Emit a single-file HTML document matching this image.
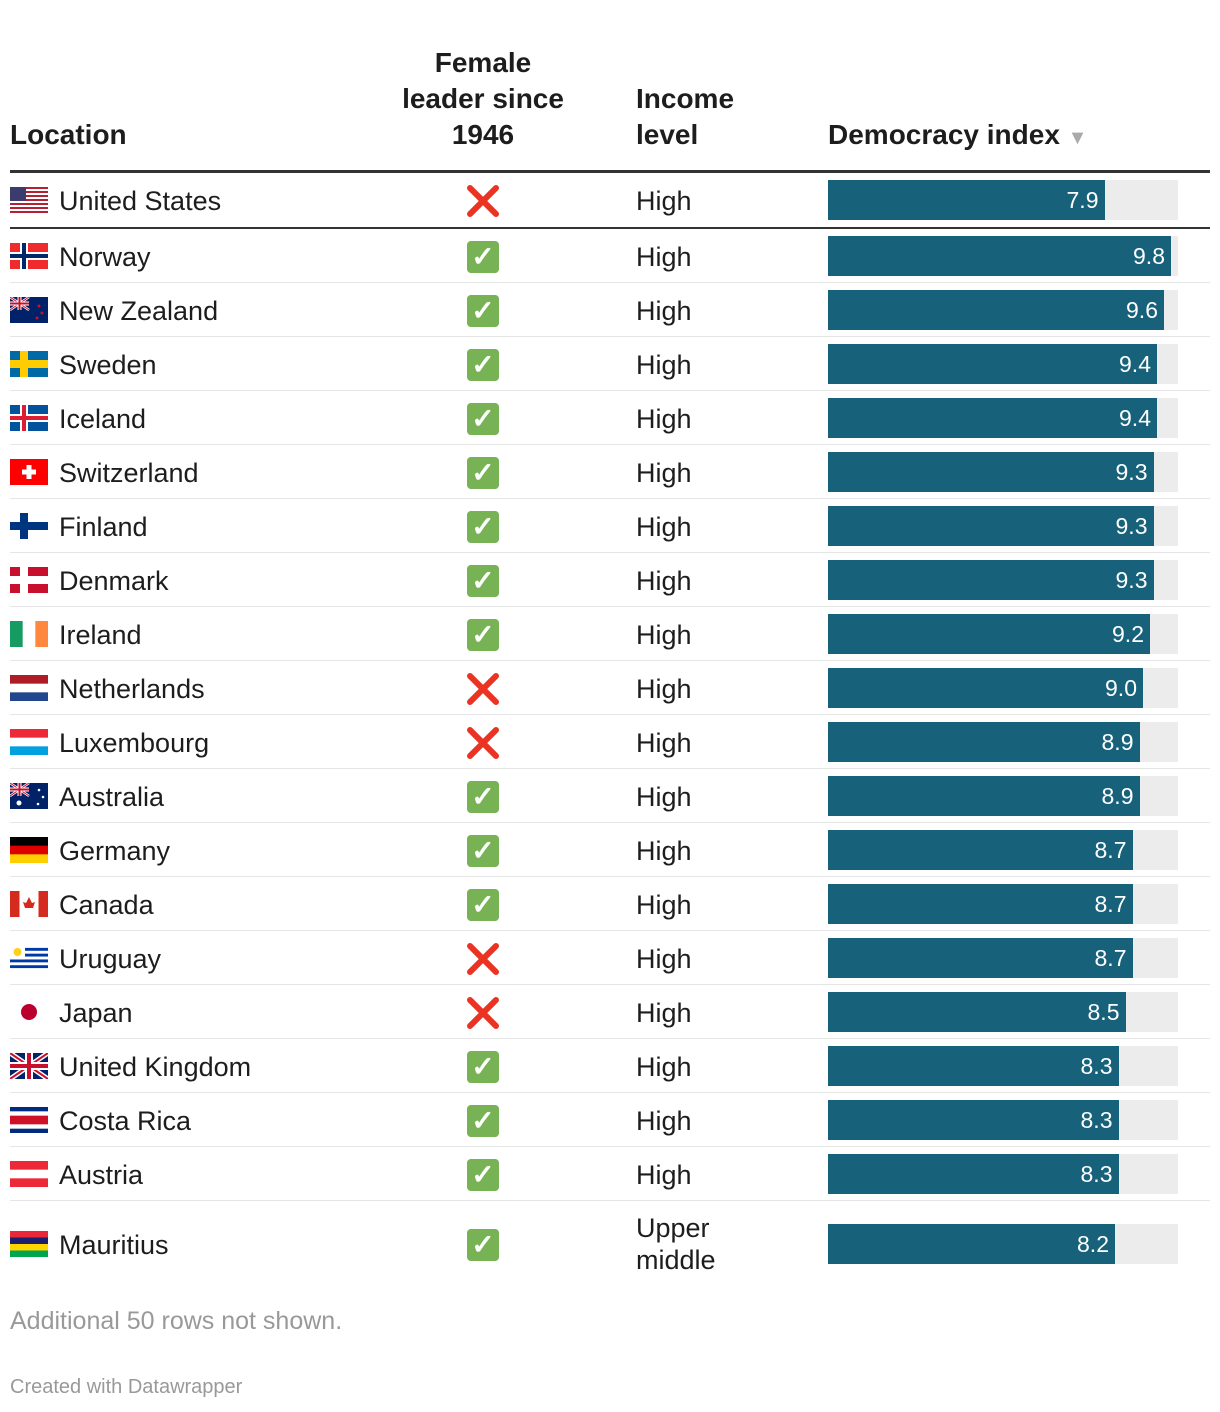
<!DOCTYPE html>
<html><head><meta charset="utf-8"><style>
body{margin:0;width:1220px;height:1412px;background:#fff;font-family:"Liberation Sans",Arial,sans-serif;color:#1d1d1d;position:relative;overflow:hidden}
.a{position:absolute}
.h{font-weight:bold;font-size:28px;line-height:36px;color:#1d1d1d}
.t{font-size:27px;line-height:32px}
.bg{background:#ececec;height:40px}
.bar{background:#17627a;height:40px;color:#fff;font-size:23px;line-height:40px;text-align:right;box-sizing:border-box;padding-right:6px}
</style></head><body>
<div class="a h" style="left:10px;top:117px">Location</div>
<div class="a h" style="left:383px;width:200px;top:45px;text-align:center">Female<br>leader since<br>1946</div>
<div class="a h" style="left:636px;top:81px">Income<br>level</div>
<div class="a h" style="left:828px;top:117px">Democracy index <span style="color:#aaa;font-size:20px">▼</span></div>
<div class="a" style="left:10px;top:170px;width:1200px;height:3px;background:#333"></div>
<div id="rows"></div>
<div class="a t" style="left:10px;top:1305px;color:#999;font-size:25px">Additional 50 rows not shown.</div>
<div class="a" style="left:10px;top:1376px;color:#999;font-size:20px">Created with Datawrapper</div>
<script>
const countries=["United States","Norway","New Zealand","Sweden","Iceland","Switzerland","Finland","Denmark","Ireland","Netherlands","Luxembourg","Australia","Germany","Canada","Uruguay","Japan","United Kingdom","Costa Rica","Austria","Mauritius"];
const femaleLeader=[0,1,1,1,1,1,1,1,1,0,0,1,1,1,0,0,1,1,1,1];
const income=["High","High","High","High","High","High","High","High","High","High","High","High","High","High","High","High","High","High","High","Upper<br>middle"];
const democracy=[7.9,9.8,9.6,9.4,9.4,9.3,9.3,9.3,9.2,9.0,8.9,8.9,8.7,8.7,8.7,8.5,8.3,8.3,8.3,8.2];
function flag(c){
 const W=38,H=26;let s='';
 const st=(cols)=>cols.map((col,i)=>`<rect x="0" y="${i*H/cols.length}" width="${W}" height="${H/cols.length+0.5}" fill="${col}"/>`).join('');
 const vt=(cols)=>cols.map((col,i)=>`<rect y="0" x="${i*W/cols.length}" height="${H}" width="${W/cols.length+0.5}" fill="${col}"/>`).join('');
 const nord=(bg,o,i)=>`<rect width="${W}" height="${H}" fill="${bg}"/><rect x="10" width="8" height="${H}" fill="${o}"/><rect y="9" width="${W}" height="8" fill="${o}"/>`+(i?`<rect x="12" width="4" height="${H}" fill="${i}"/><rect y="11" width="${W}" height="4" fill="${i}"/>`:'');
 const ujInner=`<path d="M0 0L38 26M38 0L0 26" stroke="#fff" stroke-width="5"/><path d="M0 0L38 26M38 0L0 26" stroke="#c8102e" stroke-width="2"/><rect x="15" width="8" height="26" fill="#fff"/><rect y="9" width="38" height="8" fill="#fff"/><rect x="17" width="4" height="26" fill="#c8102e"/><rect y="11" width="38" height="4" fill="#c8102e"/>`;
 const uj=`<rect width="38" height="26" fill="#012169"/>`+ujInner;
 const ujs=`<rect width="38" height="26" fill="#012169"/><g transform="scale(.5)">${ujInner}</g>`;
 switch(c){
 case "United States":{for(let i=0;i<13;i++)s+=`<rect y="${i*2}" width="38" height="2" fill="${i%2?'#fff':'#b22234'}"/>`;s+=`<rect width="16" height="14" fill="#3c3b6e"/>`;break}
 case "Norway":s=nord('#ef2b2d','#fff','#002868');break;
 case "Sweden":s=nord('#006aa7','#fecc00');break;
 case "Iceland":s=nord('#02529c','#fff','#dc1e35');break;
 case "Finland":s=nord('#fff','#003580');break;
 case "Denmark":s=nord('#c8102e','#fff');break;
 case "New Zealand":s=ujs+`<circle cx="29" cy="9" r="1.5" fill="#c8102e"/><circle cx="32" cy="16" r="1.5" fill="#c8102e"/><circle cx="27" cy="21" r="1.5" fill="#c8102e"/>`;break;
 case "Australia":s=ujs+`<circle cx="9" cy="20" r="2.5" fill="#fff"/><circle cx="29" cy="7" r="1.3" fill="#fff"/><circle cx="33" cy="14" r="1.3" fill="#fff"/><circle cx="28" cy="21" r="1.3" fill="#fff"/>`;break;
 case "Switzerland":s=`<rect width="38" height="26" fill="#ff0000"/><rect x="16.5" y="6" width="5" height="14" fill="#fff"/><rect x="12" y="10.5" width="14" height="5" fill="#fff"/>`;break;
 case "Ireland":s=vt(['#169b62','#fff','#ff883e']);break;
 case "Netherlands":s=st(['#ae1c28','#fff','#21468b']);break;
 case "Luxembourg":s=st(['#ed2939','#fff','#00a1de']);break;
 case "Germany":s=st(['#000','#dd0000','#ffce00']);break;
 case "Canada":s=vt(['#d52b1e','#fff','#fff','#d52b1e'])+`<path d="M19 6l3 6 3-1-2 6h-8l-2-6 3 1z" fill="#d52b1e"/>`;break;
 case "Uruguay":{for(let i=0;i<9;i++)s+=`<rect y="${i*H/9}" width="38" height="${H/9+.3}" fill="${i%2?'#0038a8':'#fff'}"/>`;s+=`<rect width="15" height="${H*5/9}" fill="#fff"/><circle cx="7.5" cy="7" r="4" fill="#fcd116"/>`;break}
 case "Japan":s=`<rect width="38" height="26" fill="#fff"/><circle cx="19" cy="13" r="8" fill="#bc002d"/>`;break;
 case "United Kingdom":s=uj;break;
 case "Costa Rica":s=st(['#002b7f','#fff','#ce1126','#ce1126','#fff','#002b7f']);break;
 case "Austria":s=st(['#ed2939','#fff','#ed2939']);break;
 case "Mauritius":s=st(['#ea2839','#1a206d','#ffd500','#00a551']);break;
 }
 return `<svg width="38" height="26" viewBox="0 0 38 26">${s}</svg>`;
}
const xScale=v=>v*35;
function buildRows(){
 const root=document.getElementById('rows');
 let yPos=173;
 countries.forEach((c,i)=>{
  const h=(i===countries.length-1)?86:(i===0?56:54);
  const r=document.createElement('div');
  r.className='a';r.style.cssText=`left:0;top:${yPos}px;width:1220px;height:${h}px`;
  
  
  const half=(i===0?54:h)/2;
  const twoLine=income[i].indexOf('<br>')>=0;
  r.innerHTML=`<div class="a" style="left:10px;top:${half-13}px">${flag(c)}</div>`+
  `<div class="a t" style="left:59px;top:${half-15}px">${c}</div>`+
  `<div class="a" style="left:465px;top:${half-17}px;width:36px;height:36px;display:flex;align-items:center;justify-content:center">${femaleLeader[i]?'<div style="width:32px;height:32px;background:#77b255;border-radius:4px;color:#fff;font-size:28px;font-weight:bold;line-height:32px;text-align:center">✓</div>':'<svg width="34" height="34"><path d="M4 4L30 30M30 4L4 30" stroke="#ea3323" stroke-width="6" stroke-linecap="round"/></svg>'}</div>`+
  `<div class="a t" style="left:636px;top:${half-(twoLine?32:15)}px">${income[i]}</div>`+
  `<div class="a bg" style="left:828px;top:${half-20}px;width:${xScale(10)}px"></div>`+
  `<div class="a bar" style="left:828px;top:${half-20}px;width:${xScale(democracy[i])}px">${democracy[i].toFixed(1)}</div>`;
  root.appendChild(r);
  yPos+=h;
  if(i<countries.length-1){
   const l=document.createElement('div');
   l.className='a';
   
   
   l.style.cssText=`left:10px;top:${i===0?yPos-2:yPos-1}px;width:1200px;height:${i===0?2:1}px;background:${i===0?'#333':'#e6e6e6'}`;
   root.appendChild(l);
  }
 });
}
buildRows();
</script>
</body></html>
